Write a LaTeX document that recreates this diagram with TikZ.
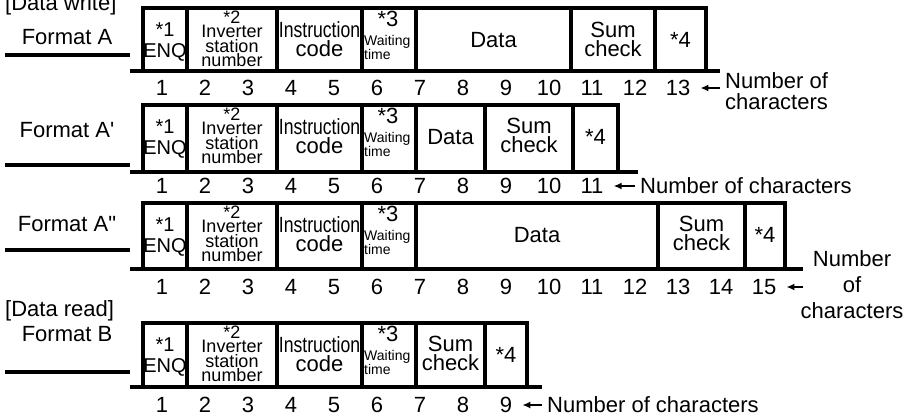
\documentclass[tikz,border=0pt]{standalone}
\usepackage{fontspec}
\setmainfont{Liberation Sans}
\usepackage{graphicx}
\usetikzlibrary{arrows.meta}

\tikzset{
	frame/.style = {line width=3.2pt},
	txt/.style = {inner sep=0pt, align=center, font=\fontsize{22}{19}\selectfont},
	small/.style = {inner sep=0pt, align=center, font=\fontsize{18}{14.5}\selectfont},
	tiny/.style = {inner sep=0pt, align=left, font=\fontsize{14}{14}\selectfont},
	num/.style = {inner sep=0pt, font=\fontsize{22}{22}\selectfont},
	pointer/.style = {line width=2pt, -{Latex[length=8pt,width=7pt]}, shorten >=10pt, shorten <=5pt}
}

\begin{document}
\begin{tikzpicture}[x=1pt,y=-1pt]
	\useasboundingbox (0,0) rectangle (904,417);
	\node[txt, anchor=west] (write) at (5,5) {[Data write]};
	\node[txt, anchor=west] (read) at (5,311) {[Data read]};
	% fields 1 to 6 are the same in every format
	\foreach \r/\fmtname/\ytop/\ybot/\ylab/\yline/\xend/\xbase in {a/A/8/71/37/55/706/720, ap/A\textquotesingle/105/172/130/165/618/638, app/A\textquotedbl/203/269/224/250/785/803, b/B/323/387/334/372/527/542}{
		\node[txt] (fmt\r) at (67,\ylab) {Format \fmtname};
		\draw[frame] (5,\yline) -- (130,\yline);
		\draw[frame] (143,\ybot) -- (143,\ytop) -- (\xend,\ytop) -- (\xend,\ybot);
		\draw[frame] (130,\ybot) -- (\xbase,\ybot);
		\foreach \x in {187,277,362,416} \draw[frame] (\x,\ytop) -- (\x,\ybot);
		\node[txt, font=\fontsize{20}{21}\selectfont] (enq\r) at (165,\ytop+34) {*1\\ENQ};
		\node[small] (inv\r) at (232,\ytop+31) {*2\\Inverter\\station\\number};
		\node[txt, font=\fontsize{22}{18.5}\selectfont] (ins\r) at (319.5,\ytop+31) {\scalebox{0.8}[1]{Instruction}\\code};
		\node[txt] (ast\r) at (388,\ytop+11) {*3};
		\node[tiny, anchor=west] (wait\r) at (364,\ytop+39) {Waiting\\time};
	}
	% Format A
	\foreach \x in {571,655} \draw[frame] (\x,8) -- (\x,71);
	\node[txt] (dataa) at (493.5,40) {Data};
	\node[txt] (suma) at (613,39) {Sum\\check};
	\node[txt] (enda) at (680.5,40) {*4};
	\foreach \n in {1,...,13} \node[num] (na\n) at ({119+43*\n},88) {\n};
	\node[txt, anchor=west, align=left, font=\fontsize{22}{21}\selectfont] (cnta) at (725,91) {Number of\\characters};
	\draw[pointer] (cnta.west |- na13) -- (na13.east);
	% Format A'
	\foreach \x in {485,573} \draw[frame] (\x,105) -- (\x,172);
	\node[txt] (dataap) at (450.5,137) {Data};
	\node[txt] (sumap) at (529,135) {Sum\\check};
	\node[txt] (endap) at (595.5,137) {*4};
	\foreach \n in {1,...,11} \node[num] (nap\n) at ({119+43*\n},186) {\n};
	\node[txt, anchor=west] (cntap) at (640,186) {Number of characters};
	\draw[pointer] (cntap.west |- nap11) -- (nap11.east);
	% Format A''
	\foreach \x in {658,745} \draw[frame] (\x,203) -- (\x,269);
	\node[txt] (dataapp) at (537,235) {Data};
	\node[txt] (sumapp) at (701.5,233) {Sum\\check};
	\node[txt] (endapp) at (765,235) {*4};
	\foreach \n in {1,...,15} \node[num] (napp\n) at ({119+43*\n},287) {\n};
	\node[txt, font=\fontsize{22}{26}\selectfont] (cntapp) at (852,285) {Number\\of\\characters};
	\draw[pointer, shorten <=-3pt] (cntapp.west |- napp15) -- (napp15.east);
	% Format B
	\draw[frame] (485,323) -- (485,387);
	\node[txt] (sumb) at (450.5,353) {Sum\\check};
	\node[txt] (endb) at (506,355) {*4};
	\foreach \n in {1,...,9} \node[num] (nb\n) at ({119+43*\n},405) {\n};
	\node[txt, anchor=west] (cntb) at (547,405) {Number of characters};
	\draw[pointer] (cntb.west |- nb9) -- (nb9.east);
\end{tikzpicture}
\end{document}
